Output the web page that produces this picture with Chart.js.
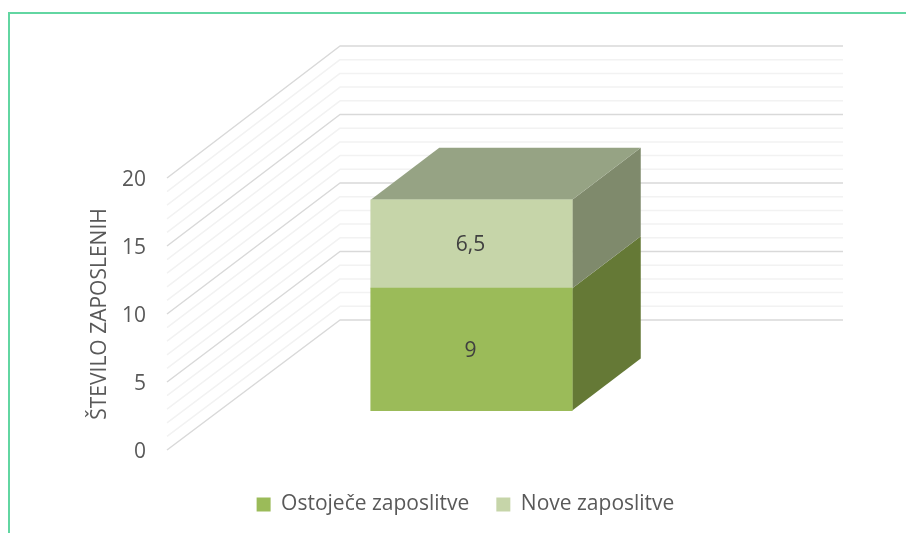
<!DOCTYPE html>
<html>
<head>
<meta charset="utf-8">
<style>
html,body{margin:0;padding:0;background:#fff;width:906px;height:533px;overflow:hidden;position:relative}
#frame{position:absolute;left:8px;top:12px;right:0;bottom:0;border-left:2px solid #62D6A2;border-top:2px solid #62D6A2}
canvas{position:absolute;left:0;top:0}
</style>
<script src="https://cdn.jsdelivr.net/npm/chart.js@4"></script>
</head>
<body>
<div id="frame"></div>
<canvas id="c" width="906" height="533"></canvas>
<script>
const categories = ['Zaposlitve'];
const existingJobs = [9];
const newJobs = [6.5];
const seriesNames = ['Ostoječe zaposlitve', 'Nove zaposlitve'];
const tickLabels = [0, 5, 10, 15, 20];
const axisTitle = 'ŠTEVILO ZAPOSLENIH';

const TEXT = '#595959';
const FONT = '"Open Sans", sans-serif';
const faces = [
  {side:'#657936', top:null},
  {side:'#7F8A6C', top:'#96A384'}
];

const wall = {dx:173, backBottom:320, backTop:46, right:843};
const barDepth = {dx:68.5, dy:-52};
const barLift = 2.9; // bars stand forward of the axis plane, in axis units

const walls3d = {
  id:'walls3d',
  afterLayout(chart){
    const l = chart.legend;
    l.left += 34; l.right += 34; l.top += 17; l.bottom += 17;
  },
  beforeDatasetsDraw(chart){
    const {ctx, scales:{y}} = chart;
    const x0 = y.right, x1 = x0 + wall.dx;
    const unit = (wall.backBottom - wall.backTop) / (y.max - y.min);
    ctx.save();
    ctx.lineJoin = 'round';
    const vals = [];
    for (let v = y.min; v <= y.max; v++) vals.push(v);
    vals.sort((a,b)=> (tickLabels.includes(a)?1:0) - (tickLabels.includes(b)?1:0));
    vals.forEach(v=>{
      const major = tickLabels.includes(v);
      const yBack = wall.backBottom - v*unit;
      ctx.strokeStyle = major ? '#D9D9D9' : '#F2F2F2';
      ctx.lineWidth = 1.5;
      ctx.beginPath();
      ctx.moveTo(x0, y.getPixelForValue(v));
      ctx.lineTo(x1, yBack);
      ctx.lineTo(wall.right, yBack);
      ctx.stroke();
    });
    chart.data.datasets.forEach((ds,i)=>{
      const b = chart.getDatasetMeta(i).data[0];
      const l = b.x - b.width/2, r = b.x + b.width/2;
      const {dx,dy} = barDepth;
      ctx.fillStyle = faces[i].side;
      ctx.beginPath();
      ctx.moveTo(r,b.y); ctx.lineTo(r+dx,b.y+dy); ctx.lineTo(r+dx,b.base+dy); ctx.lineTo(r,b.base);
      ctx.closePath(); ctx.fill();
      if (faces[i].top){
        ctx.fillStyle = faces[i].top;
        ctx.beginPath();
        ctx.moveTo(l,b.y); ctx.lineTo(l+dx,b.y+dy); ctx.lineTo(r+dx,b.y+dy); ctx.lineTo(r,b.y);
        ctx.closePath(); ctx.fill();
      }
    });
    ctx.restore();
  },
  afterDatasetsDraw(chart){
    const {ctx} = chart;
    ctx.save();
    ctx.fillStyle = '#404040';
    ctx.font = '21px ' + FONT;
    ctx.textAlign = 'center';
    ctx.textBaseline = 'middle';
    chart.data.datasets.forEach((ds,i)=>{
      const b = chart.getDatasetMeta(i).data[0];
      ctx.fillText(String(ds.data[0]).replace('.',','), b.x-1, (b.y+b.base)/2 + 1.5);
    });
    ctx.restore();
  }
};

new Chart(document.getElementById('c'), {
  type:'bar',
  data:{
    labels:categories,
    datasets:[
      {label:seriesNames[0], data:existingJobs, backgroundColor:'#9BBB59', yAxisID:'yBar', barThickness:201.5},
      {label:seriesNames[1], data:newJobs, backgroundColor:'#C6D5A9', yAxisID:'yBar', barThickness:201.5}
    ]
  },
  options:{
    responsive:false,
    animation:false,
    layout:{padding:{left:87, right:130, top:178, bottom:25}},
    plugins:{
      tooltip:{enabled:false},
      legend:{
        position:'bottom',
        labels:{color:TEXT, font:{family:FONT,size:21}, boxWidth:14, boxHeight:14, padding:27}
      }
    },
    scales:{
      x:{display:false, stacked:true},
      y:{
        position:'left', min:0, max:20,
        afterFit(s){ s.width = 80; },
        grid:{display:false},
        border:{display:false},
        ticks:{
          stepSize:1, autoSkip:false, color:TEXT, padding:13, labelOffset:2,
          font:{family:FONT,size:21},
          callback:v=> tickLabels.includes(v) ? String(v) : ''
        },
        title:{display:true, text:axisTitle, color:TEXT, font:{family:FONT,size:21}, padding:{top:0,bottom:0}}
      },
      yBar:{display:false, stacked:true, min:-barLift, max:20-barLift}
    }
  },
  plugins:[walls3d]
});
</script>
</body>
</html>
